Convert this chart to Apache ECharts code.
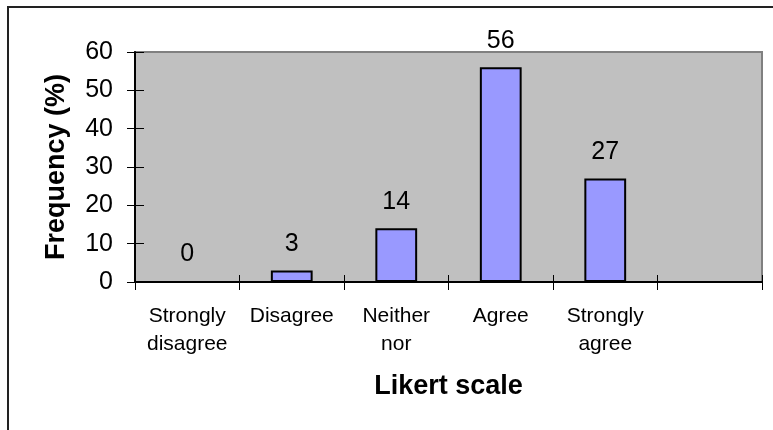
<!DOCTYPE html>
<html>
<head>
<meta charset="utf-8">
<script src="https://cdn.jsdelivr.net/npm/echarts@6/dist/echarts.min.js"></script>
<style>
html,body{margin:0;padding:0;background:#fff;}
#frame{position:absolute;left:7px;top:6px;width:800px;height:500px;border-left:2px solid #222;border-top:2px solid #222;}
#chart{position:absolute;left:0;top:0;width:773px;height:430px;}
</style>
</head>
<body>
<div id="frame"></div>
<div id="chart"></div>
<script>
var categories = ['Strongly\ndisagree', 'Disagree', 'Neither\nnor', 'Agree', 'Strongly\nagree', ''];
var frequency = [0, 3, 14, 56, 27, null];
var yTicks = [0, 10, 20, 30, 40, 50, 60];

var FONT = '"Liberation Sans", Arial, sans-serif';
var chart = echarts.init(document.getElementById('chart'), null, {renderer: 'canvas'});
chart.setOption({
  animation: false,
  backgroundColor: 'transparent',
  grid: {
    left: 135, right: 11, top: 52, bottom: 148,
    show: true, backgroundColor: '#C0C0C0', borderColor: '#808080', borderWidth: 2
  },
  xAxis: [{
    type: 'category',
    data: categories,
    boundaryGap: true,
    name: 'Likert scale',
    nameLocation: 'middle',
    nameGap: 91,
    nameTextStyle: {fontFamily: FONT, fontSize: 27, fontWeight: 'bold', color: '#000'},
    axisLine: {lineStyle: {color: '#000', width: 2}},
    axisTick: {show: true, length: 8, lineStyle: {color: '#000', width: 1}},
    axisLabel: {fontFamily: FONT, fontSize: 21, color: '#000', lineHeight: 28, margin: 20, interval: 0},
    splitLine: {show: false}
  }, {
    type: 'category',
    data: categories,
    boundaryGap: true,
    position: 'bottom',
    axisLine: {show: false},
    axisTick: {show: true, inside: true, length: 7, lineStyle: {color: '#000', width: 1}},
    axisLabel: {show: false},
    splitLine: {show: false}
  }],
  yAxis: [{
    type: 'value',
    min: 0, max: 60, interval: 10,
    name: 'Frequency (%)',
    nameLocation: 'middle',
    nameGap: 65,
    nameTextStyle: {fontFamily: FONT, fontSize: 27, fontWeight: 'bold', color: '#000'},
    axisLine: {show: true, lineStyle: {color: '#000', width: 2}},
    axisTick: {show: true, length: 8, lineStyle: {color: '#000', width: 1}},
    axisLabel: {fontFamily: FONT, fontSize: 25, color: '#000', margin: 22,
      formatter: function (v) { return yTicks.indexOf(v) >= 0 ? String(v) : ''; }},
    splitLine: {show: false}
  }, {
    type: 'value',
    min: 0, max: 60, interval: 10,
    position: 'left',
    axisLine: {show: false},
    axisTick: {show: true, inside: true, length: 9, lineStyle: {color: '#000', width: 1}},
    axisLabel: {show: false},
    splitLine: {show: false}
  }],
  series: [{
    type: 'bar',
    data: frequency,
    barWidth: '40%',
    itemStyle: {color: '#9999FF', borderColor: '#000', borderWidth: 2},
    label: {show: true, position: 'top', distance: 14, fontFamily: FONT, fontSize: 25, color: '#000'}
  }]
});
</script>
</body>
</html>
